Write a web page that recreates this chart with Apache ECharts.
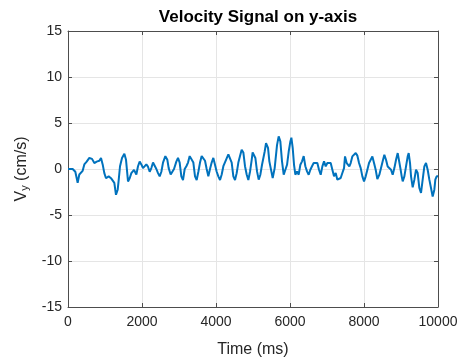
<!DOCTYPE html>
<html>
<head>
<meta charset="utf-8">
<script src="https://cdn.jsdelivr.net/npm/echarts@6/dist/echarts.min.js"></script>
<style>
  html, body { margin: 0; padding: 0; background: #fff; }
  #main { width: 459px; height: 363px; }
</style>
</head>
<body>
<div id="main"></div>
<script>
// time stamps (ms) and velocity values (cm/s)
var timeMs = [0,126,198,261,306,351,396,441,505,577,649,712,775,847,892,937,982,1027,1099,1162,1207,1252,1297,1343,1370,1406,1460,1523,1568,1622,
  1667,1712,1784,1847,1892,1937,1982,2027,2072,2117,2162,2208,2253,2298,2343,2388,2433,2478,2523,2568,2631,2685,2721,2775,2820,2865,2928,2973,3018,3063,
  3108,3154,3199,3244,3289,3343,3388,3433,3478,3523,3568,3613,3658,3703,3748,3793,3838,3883,3928,3973,4019,4063,4109,4154,4199,4271,4334,4379,4424,4469,
  4514,4559,4604,4649,4694,4739,4784,4829,4874,4919,4965,4990,5064,5109,5154,5199,5244,5316,5352,5406,5442,5496,5532,5586,5649,5694,5739,5784,5830,5875,
  5920,5965,6010,6037,6073,6109,6145,6190,6235,6280,6325,6370,6415,6460,6505,6550,6595,6640,6694,6739,6784,6830,6875,6920,6965,7010,7055,7100,7145,7190,
  7235,7280,7325,7370,7415,7460,7487,7532,7568,7604,7640,7685,7730,7776,7821,7866,7911,7956,8001,8046,8091,8136,8181,8226,8271,8316,8361,8415,8460,8505,
  8550,8595,8640,8685,8730,8775,8821,8866,8911,8956,8983,9019,9046,9091,9136,9181,9208,9244,9271,9316,9361,9406,9451,9496,9541,9586,9631,9676,9721,9766,
  9811,9856,9901,9928,9964,10000];
var vy = [0,0,-0.3,-1.5,-0.6,-0.45,-0.2,0.5,0.8,1.2,1.1,0.65,0.8,0.9,1.2,0.5,-0.45,-1.0,-0.8,-1.0,-0.8,-1.5,-2.8,-2.25,-1.2,0.3,1.2,1.65,1.0,-1.35,
  -1.0,-0.45,-0.1,-0.6,0.3,0.8,0.5,0.1,0.0,0.5,0.25,-0.3,0.1,0.7,0.8,0.0,-0.45,-0.8,-0.3,0.7,1.4,1.0,0.1,-0.6,-0.8,0.0,0.8,1.2,0.7,-0.8,
  -1.2,0.0,0.3,0.7,1.4,1.6,0.7,-0.8,-1.2,-0.3,0.7,1.4,1.6,0.9,0.0,-0.8,0.0,0.7,1.2,1.0,-0.3,-0.8,-1.2,-0.6,0.3,1.0,1.6,1.8,0.7,-0.8,
  -1.2,-0.45,0.7,1.4,2.1,1.8,0.3,-0.6,-1.2,-0.3,1.0,1.8,1.2,-0.26,-1.16,-0.62,0.46,1.9,2.8,2.3,0.83,-0.26,-0.98,0.1,2.6,3.55,3.0,0.83,-0.62,-0.8,
  0.46,1.9,3.0,3.4,2.3,0.46,-0.62,-0.26,-0.62,0.46,0.83,1.4,0.3,-0.26,-0.62,-0.08,0.3,0.65,0.83,0.65,-0.08,-0.62,0.28,0.83,0.28,0.65,0.83,0.65,-0.08,-0.8,
  -0.44,-1.16,-1.34,-0.98,-0.44,0.1,1.37,0.65,0.83,0.28,0.65,1.37,1.55,1.73,1.45,0.65,0.1,-0.8,-1.34,-0.8,-0.08,0.65,1.01,1.37,0.65,-0.08,-1.1,-0.62,0.1,0.83,
  1.55,1.01,0.28,0.1,-0.08,-0.62,0.1,1.01,1.73,1.55,0.1,-0.8,-1.34,-0.8,0.28,1.37,1.73,0.65,-0.8,-2.0,-1.16,-0.08,-0.44,-2.07,-2.6,-1.16,0.28,0.65,-0.08,-1.16,
  -2.07,-3.0,-2.25,-1.16,-0.8,-0.8];

var xTicks = [0, 2000, 4000, 6000, 8000, 10000];
var yTicks = [-15, -10, -5, 0, 5, 10, 15];

var seriesData = timeMs.map(function (t, i) { return [t, vy[i]]; });

var textColor = '#262626';
var axisColor = '#4d4d4d';
var font = 'Liberation Sans, Arial, Helvetica, sans-serif';

var chart = echarts.init(document.getElementById('main'));

var option = {
    animation: false,
    title: {
        text: 'Velocity Signal on y-axis',
        left: 253,
        textAlign: 'center',
        top: 4,
        textStyle: { fontSize: 17, fontWeight: 'bold', color: '#000', fontFamily: font }
    },
    grid: { left: 68, right: 21, top: 31, bottom: 56, outerBoundsMode: 'none' },
    xAxis: [
        {
            type: 'value', min: 0, max: 10000, interval: 2000,
            name: 'Time (ms)', nameLocation: 'middle', nameGap: 35,
            nameTextStyle: { fontSize: 16, color: textColor, fontFamily: font },
            axisLine: { show: true, onZero: false, lineStyle: { color: axisColor } },
            axisTick: { show: true, inside: true, length: 4, lineStyle: { color: axisColor } },
            axisLabel: { fontSize: 14, color: textColor, fontFamily: font, margin: 8,
                formatter: function (v) { return String(v); } },
            splitLine: { show: true, lineStyle: { color: '#e5e5e5' } }
        },
        {
            type: 'value', min: 0, max: 10000, interval: 2000, position: 'top',
            axisLine: { show: true, onZero: false, lineStyle: { color: axisColor } },
            axisTick: { show: true, inside: true, length: 4, lineStyle: { color: axisColor } },
            axisLabel: { show: false },
            splitLine: { show: false }
        }
    ],
    yAxis: [
        {
            type: 'value', min: -15, max: 15, interval: 5,
            name: '{n|V}{s|y}{n| (cm/s)}', nameLocation: 'middle', nameGap: 36, nameRotate: 90,
            nameTextStyle: {
                color: textColor, fontFamily: font,
                rich: {
                    n: { fontSize: 16, color: textColor, fontFamily: font },
                    s: { fontSize: 11, color: textColor, fontFamily: font, verticalAlign: 'bottom', padding: [8, 0, 0, 0] }
                }
            },
            axisLine: { show: true, onZero: false, lineStyle: { color: axisColor } },
            axisTick: { show: true, inside: true, length: 4, lineStyle: { color: axisColor } },
            axisLabel: { fontSize: 14, color: textColor, fontFamily: font, margin: 6 },
            splitLine: { show: true, lineStyle: { color: '#e5e5e5' } }
        },
        {
            type: 'value', min: -15, max: 15, interval: 5, position: 'right',
            axisLine: { show: true, onZero: false, lineStyle: { color: axisColor } },
            axisTick: { show: true, inside: true, length: 4, lineStyle: { color: axisColor } },
            axisLabel: { show: false },
            splitLine: { show: false }
        }
    ],
    series: [
        {
            type: 'line',
            data: seriesData,
            showSymbol: false,
            lineStyle: { color: '#0072BD', width: 2 },
            itemStyle: { color: '#0072BD' }
        }
    ]
};

chart.setOption(option);
window.onresize = function () { chart.resize(); };
</script>
</body>
</html>
